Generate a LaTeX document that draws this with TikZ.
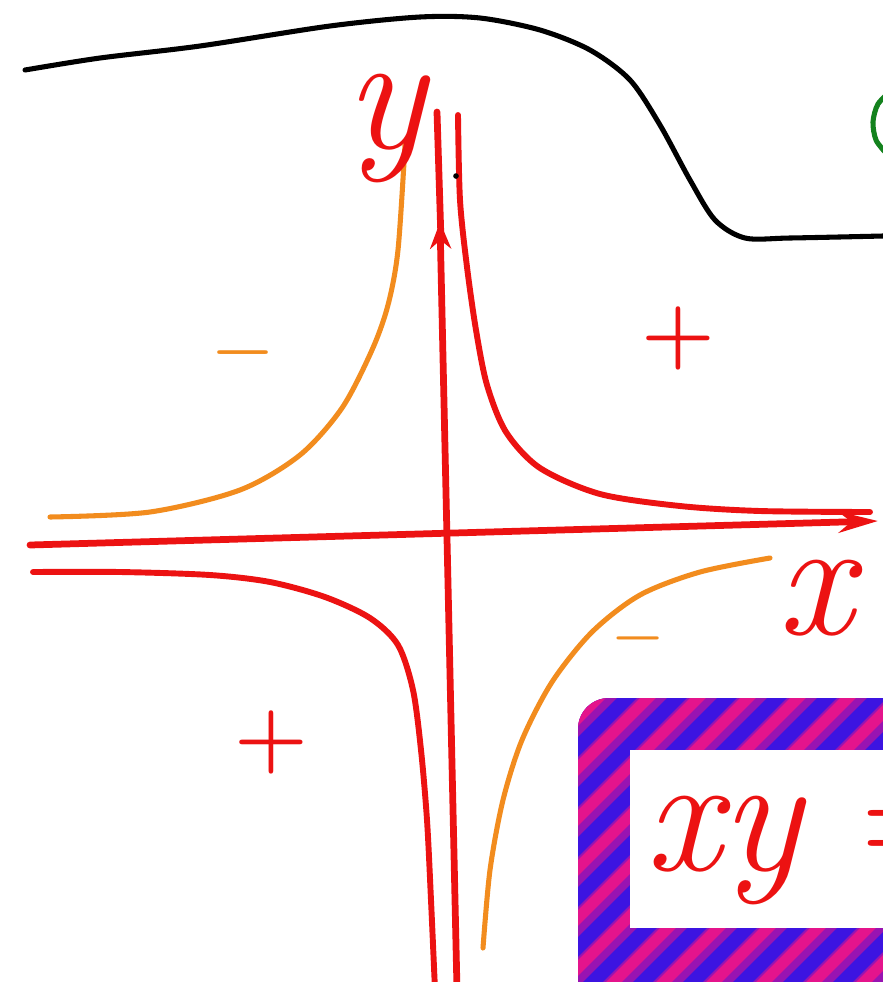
\documentclass[tikz,border=0pt]{standalone}
\usetikzlibrary{arrows.meta}
\definecolor{inkred}{RGB}{236,18,18}
\definecolor{inkorange}{RGB}{242,140,30}
\definecolor{inkgreen}{RGB}{20,130,30}
\definecolor{hatchblue}{RGB}{60,20,225}
\definecolor{hatchmag}{RGB}{228,20,140}
\tikzset{
  pen/.style={line width=3.6pt, line cap=round, line join=round},
  axis/.style={pen, draw=inkred, line width=4.8pt},
  branch/.style={pen, draw=inkred, line width=4.2pt},
  obranch/.style={pen, draw=inkorange, line width=3.6pt},
  sign/.style={inner sep=0pt, font=\fontsize{60}{60}\selectfont\bfseries},
  lbl/.style={inner sep=0pt, text=inkred, font=\fontsize{120}{120}\selectfont\itshape},
  arr/.style={-{Stealth[length=19pt, width=15pt]}},
  longarr/.style={-{Stealth[length=28pt, width=15pt]}}
}
\begin{document}
\begin{tikzpicture}[x=0.025cm, y=-0.025cm]
\useasboundingbox (0,0) rectangle (883,982);
\clip (0,0) rectangle (883,982);
\fill[white] (0,0) rectangle (883,982);
\draw[pen, black] plot[smooth] coordinates {(25,70) (100,58) (200,46) (330,26) (420,17) (480,18) (540,30) (590,50) (630,80) (660,125) (690,180) (715,220) (745,238) (790,238) (883,236)};
\draw[pen, inkgreen] plot[smooth] coordinates {(892,90) (878,104) (873,122) (876,140) (886,153)};
\begin{scope}
\clip[rounded corners=22pt] (578,698) rectangle (1000,1100);
\fill[hatchblue] (560,680) rectangle (1000,1100);
\foreach \k in {0,...,14} {
  \draw[line width=15pt, hatchblue!45!hatchmag] (\k*50+150,1100) -- ++(500,-500);
  \draw[line width=8pt, hatchmag] (\k*50+146,1100) -- ++(500,-500);
}
\end{scope}
\fill[white] (630,750) rectangle (1000,928);
\node[lbl, anchor=west] (eqn) at (645,850) {xy \upshape=};
\draw[obranch] plot[smooth] coordinates {(405,145) (398,250) (388,305) (372,350) (342,408) (300,455) (240,490) (150,512) (50,517)};
\draw[obranch] plot[smooth] coordinates {(770,558) (700,572) (640,595) (592,632) (552,682) (522,740) (503,800) (490,870) (483,948)};
\draw[branch] plot[smooth] coordinates {(458,115) (460,200) (467,267) (476,330) (487,385) (506,432) (540,468) (600,494) (680,506) (760,511) (870,512)};
\draw[branch] plot[smooth] coordinates {(33,572) (120,572) (210,575) (270,582) (325,597) (370,618) (398,645) (413,690) (421,750) (427,820) (431,900) (435,990)};
\draw[axis, longarr] (30,545) -- (878,521);
\draw[axis, arr] (457,990) -- (440,222);
\draw[axis] (441,240) -- (437,112);
\fill[black] (456,176) circle (2pt);
\node[sign, text=inkorange, font=\fontsize{48}{48}\selectfont\bfseries] (minusII) at (243,360) {−};
\node[sign, text=inkred] (plusI) at (678,338) {+};
\node[sign, text=inkred] (plusIII) at (271,742) {+};
\node[sign, text=inkorange, font=\fontsize{40}{40}\selectfont\bfseries] (minusIV) at (638,645) {−};
\node[lbl] (ylbl) at (386,128) {y};
\node[lbl] (xlbl) at (815,598) {x};
\end{tikzpicture}
\end{document}
